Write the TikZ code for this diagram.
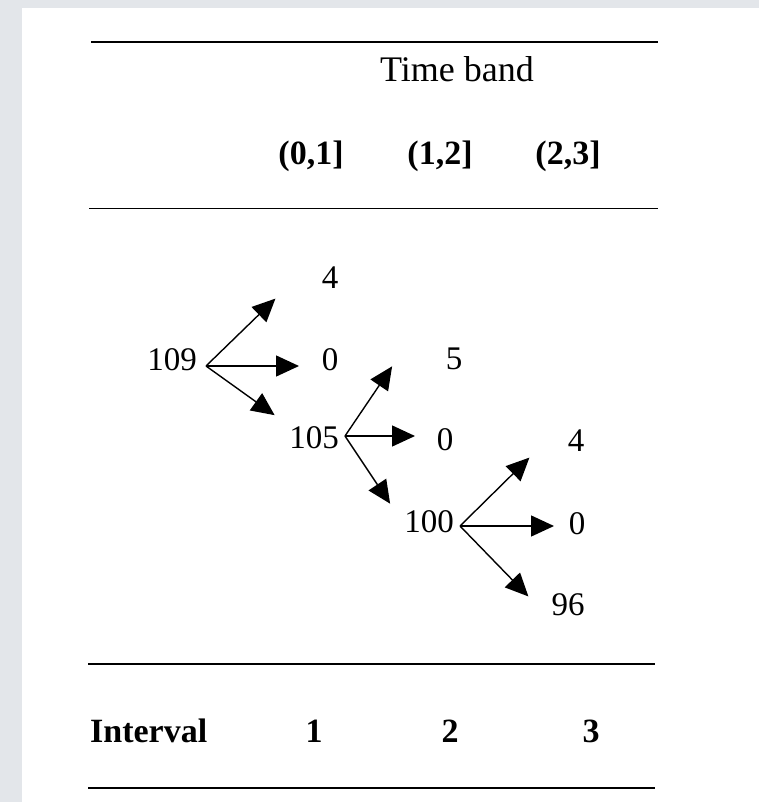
\documentclass[tikz,border=0pt]{standalone}
\usepackage{fontspec}
\setmainfont{Liberation Serif}
\usetikzlibrary{arrows.meta}
\definecolor{bggray}{HTML}{E3E6EA}
\begin{document}
\begin{tikzpicture}[x=1pt,y=-1pt,
  num/.style={inner sep=0pt,font=\fontsize{33}{38}\selectfont},
  hdr/.style={inner sep=0pt,font=\fontsize{34}{40}\selectfont\bfseries},
  rule/.style={line width=2pt},
  arr/.style={line width=1.4pt,-{Triangle[length=23pt,width=21pt]},shorten >=-2pt}]
\useasboundingbox (0,0) rectangle (759,802);
\fill[bggray] (0,0) rectangle (759,802);
\fill[white] (22,8) rectangle (759,802);
% rules
\draw[rule] (91,42.5) -- (658,42.5);
\draw[rule,line width=1.6pt] (89,208.5) -- (658,208.5);
\draw[rule] (88,663.5) -- (655,663.5);
\draw[rule,line width=1.6pt] (88,788) -- (655,788);
% headers
\node[num,font=\fontsize{36}{42}\selectfont] (tb) at (457,69) {Time band};
\node[hdr] (h1) at (311,156) {(0,1]};
\node[hdr] (h2) at (440,156) {(1,2]};
\node[hdr] (h3) at (568,156) {(2,3]};
% tree values
\node[num] (n109) at (172,360) {109};
\node[num] (a4) at (330,278) {4};
\node[num] (a0) at (330,360) {0};
\node[num] (n105) at (314,438) {105};
\node[num] (b5) at (454,359) {5};
\node[num] (b0) at (445,440) {0};
\node[num] (n100) at (429,522) {100};
\node[num] (c4) at (576,441) {4};
\node[num] (c0) at (577,524) {0};
\node[num] (c96) at (568,605) {96};
% branch points and tips
\coordinate (s1) at (206,366);
\coordinate (t1u) at (274,300);
\coordinate (t1r) at (297,366);
\coordinate (t1d) at (273,414);
\coordinate (s2) at (345,436);
\coordinate (t2u) at (391,368);
\coordinate (t2r) at (413,436);
\coordinate (t2d) at (389,502);
\coordinate (s3) at (460,526);
\coordinate (t3u) at (528,459);
\coordinate (t3r) at (552,526);
\coordinate (t3d) at (527,595);
\draw[arr] (s1) -- (t1u);
\draw[arr] (s1) -- (t1r);
\draw[arr] (s1) -- (t1d);
\draw[arr] (s2) -- (t2u);
\draw[arr] (s2) -- (t2r);
\draw[arr] (s2) -- (t2d);
\draw[arr] (s3) -- (t3u);
\draw[arr] (s3) -- (t3r);
\draw[arr] (s3) -- (t3d);
% bottom row
\node[hdr,anchor=west] (iv) at (90,731) {Interval};
\node[hdr] (i1) at (314,731) {1};
\node[hdr] (i2) at (450,731) {2};
\node[hdr] (i3) at (591,731) {3};
\end{tikzpicture}
\end{document}
